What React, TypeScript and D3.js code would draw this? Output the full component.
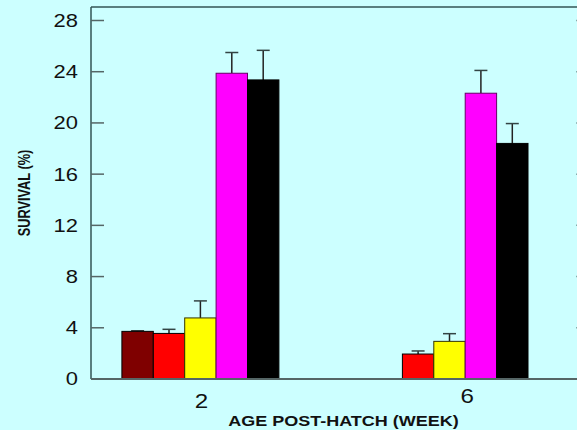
import React from 'react'
import * as d3 from 'd3'

// weeks on the x axis
const weeks = [2, 6]
const yTicks = [0, 4, 8, 12, 16, 20, 24, 28]

// survival (%) per series, one value per week (null = no bar)
const seriesNames = ['A', 'B', 'C', 'D', 'E']
const seriesColors = ['#7f0000', '#ff0000', '#ffff00', '#ff00ff', '#000000']
const seriesStrokes = ['#000000', '#000000', '#333300', '#660066', '#000000']
const valuesA = [3.72, null]
const valuesB = [3.56, 1.95]
const valuesC = [4.77, 2.94]
const valuesD = [23.88, 22.32]
const valuesE = [23.36, 18.4]
// upper error (SE)
const errA = [0.05, null]
const errB = [0.32, 0.24]
const errC = [1.33, 0.6]
const errD = [1.62, 1.78]
const errE = [2.31, 1.55]

const allValues = [valuesA, valuesB, valuesC, valuesD, valuesE]
const allErrs = [errA, errB, errC, errD, errE]

export default function App() {
  const W = 577
  const H = 430
  const left = 91
  const right = 589
  const top = 7
  const bottom = 379
  const barW = 31.4
  const font = 'Liberation Sans, Arial, sans-serif'

  const y = d3.scaleLinear().domain([0, 28]).range([bottom, 20.5])
  const x = d3.scaleLinear().domain([2, 6]).range([200.4, 465.2])

  const bars: any[] = []
  weeks.forEach((wk, gi) => {
    const present = allValues.map((v, si) => si).filter(si => allValues[si][gi] != null)
    const start = x(wk) - (present.length * barW) / 2
    present.forEach((si, k) => {
      const v = allValues[si][gi] as number
      const e = allErrs[si][gi] as number
      const bx = start + k * barW
      const cx = bx + barW / 2
      bars.push(
        <g key={`${gi}-${si}`}>
          <line x1={cx} x2={cx} y1={y(v)} y2={y(v + e)} stroke="#222" strokeWidth={1.5} />
          <line x1={cx - 6.5} x2={cx + 6.5} y1={y(v + e)} y2={y(v + e)} stroke="#334444" strokeWidth={1.5} />
          <rect x={bx} y={y(v)} width={barW} height={y(0) - y(v)}
            fill={seriesColors[si]} stroke={seriesStrokes[si]} strokeWidth={1} />
        </g>
      )
    })
  })

  // text in the source is stretched horizontally
  const sx = 1.22

  return (
    <div style={{ position: 'absolute', left: 0, top: 0 }}>
      <svg width={W} height={H} style={{ display: 'block', background: '#ccffff' }}>
        <rect x={0} y={0} width={W} height={H} fill="#ccffff" />
        {/* frame */}
        <line x1={left} x2={right} y1={top} y2={top} stroke="#335555" strokeWidth={1.5} />
        <line x1={left} x2={left} y1={top} y2={bottom} stroke="#335555" strokeWidth={1.5} />
        <line x1={right} x2={right} y1={top} y2={bottom} stroke="#335555" strokeWidth={1.5} />
        {yTicks.map(t => (
          <g key={t}>
            <line x1={left} x2={left + 13} y1={y(t)} y2={y(t)} stroke="#556666" strokeWidth={1.5} />
            <line x1={right - 13} x2={right} y1={y(t)} y2={y(t)} stroke="#88aaaa" strokeWidth={1.5} />
            <text transform={`translate(78,${y(t)}) scale(${sx},1)`} dy="0.36em" textAnchor="end"
              fontFamily={font} fontSize={18} fill="#111">{t}</text>
          </g>
        ))}
        {bars}
        <line x1={left} x2={right} y1={bottom} y2={bottom} stroke="#556666" strokeWidth={2} />
        {weeks.map((wk, i) => (
          <text key={wk} transform={`translate(${x(wk) + (i === 0 ? 1 : 2)},${i === 0 ? 408 : 403}) scale(1.15,1)`}
            textAnchor="middle" fontFamily={font} fontSize={21} fill="#111">{wk}</text>
        ))}
        <text transform={`translate(343.5,426) scale(1.2,1)`} textAnchor="middle" fontFamily={font} fontSize={15}
          fontWeight="bold" fill="#111">AGE POST-HATCH (WEEK)</text>
        <text transform="translate(30,193) scale(1.3,1) rotate(-90)" textAnchor="middle" fontFamily={font}
          fontSize={12.8} fontWeight="bold" fill="#111">SURVIVAL (%)</text>
      </svg>
    </div>
  )
}
